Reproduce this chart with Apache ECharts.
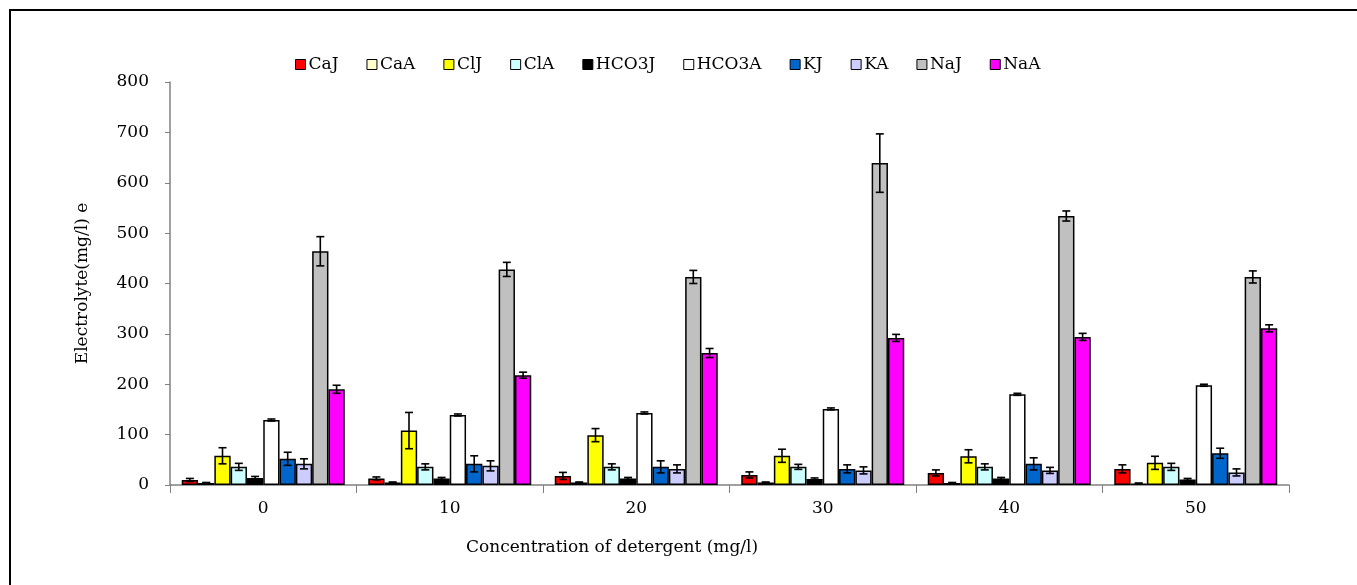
<!DOCTYPE html>
<html>
<head>
<meta charset="utf-8">
<script src="https://cdn.jsdelivr.net/npm/echarts@6/dist/echarts.min.js"></script>
<style>
html,body{margin:0;padding:0;background:#fff;}
#c{width:1357px;height:585px;}
</style>
</head>
<body>
<div id="c"></div>
<script>
// ---- data ----
var categories = ['0', '10', '20', '30', '40', '50'];
var seriesNames = ['CaJ', 'CaA', 'ClJ', 'ClA', 'HCO3J', 'HCO3A', 'KJ', 'KA', 'NaJ', 'NaA'];

var CaJ   = [10, 13, 18, 20, 24, 32];
var CaA   = [4, 5, 5, 5, 4, 3];
var ClJ   = [58, 108, 99, 58, 57, 44];
var ClA   = [36, 36, 36, 36, 36, 36];
var HCO3J = [14, 13, 13, 12, 13, 11];
var HCO3A = [129, 139, 143, 151, 180, 198];
var KJ    = [52, 42, 36, 32, 42, 63];
var KA    = [42, 38, 32, 29, 29, 25];
var NaJ   = [464, 428, 413, 639, 534, 413];
var NaA   = [190, 218, 262, 292, 294, 311];

var CaJ_err   = [3, 3, 7, 6, 6, 8];
var CaA_err   = [1, 1, 1, 1, 1, 1];
var ClJ_err   = [16, 36, 13, 13, 13, 13];
var ClA_err   = [7, 6, 6, 5, 6, 7];
var HCO3J_err = [3, 2, 2, 2, 2, 2];
var HCO3A_err = [2, 2, 2, 2, 2, 2];
var KJ_err    = [13, 16, 12, 8, 12, 10];
var KA_err    = [10, 10, 8, 7, 6, 7];
var NaJ_err   = [29, 14, 13, 58, 10, 12];
var NaA_err   = [8, 6, 9, 7, 7, 7];

var xTitle = 'Concentration of detergent (mg/l)';
var yTitle = 'Electrolyte(mg/l) e';

var seriesColors = ['#ff0000', '#ffffcc', '#ffff00', '#ccffff', '#000000', '#ffffff', '#0066cc', '#ccccff', '#c0c0c0', '#ff00ff'];

// ---- build ----
var values = [CaJ, CaA, ClJ, ClA, HCO3J, HCO3A, KJ, KA, NaJ, NaA];
var errors = [CaJ_err, CaA_err, ClJ_err, ClA_err, HCO3J_err, HCO3A_err, KJ_err, KA_err, NaJ_err, NaA_err];
var FONT = '"DejaVu Serif", "Liberation Serif", serif';
var FS = 17;
var GAP = 0.126;
var N = seriesNames.length;

var series = seriesNames.map(function (name, i) {
  return {
    name: name,
    type: 'bar',
    data: values[i],
    barGap: '0%',
    barCategoryGap: (GAP * 100) + '%',
    itemStyle: { color: seriesColors[i], borderColor: '#000', borderWidth: 1.5 },
    emphasis: { disabled: true },
    animation: false
  };
});

var errData = [];
for (var s = 0; s < N; s++) {
  for (var c = 0; c < categories.length; c++) {
    errData.push([c, s, values[s][c], errors[s][c]]);
  }
}

series.push({
  type: 'custom',
  name: 'err',
  z: 10,
  animation: false,
  data: errData,
  renderItem: function (params, api) {
    var ci = api.value(0), si = api.value(1), v = api.value(2), e = api.value(3);
    var center = api.coord([ci, v]);
    var band = api.size([1, 0])[0];
    var bw = band * (1 - GAP) / N;
    var x = center[0] + (si - (N - 1) / 2) * bw;
    var top = api.coord([ci, v + e])[1];
    var bot = api.coord([ci, Math.max(0, v - e)])[1];
    var hw = 4;
    var st = { stroke: '#000', lineWidth: 1.6 };
    return {
      type: 'group',
      children: [
        { type: 'line', shape: { x1: x, y1: top, x2: x, y2: bot }, style: st },
        { type: 'line', shape: { x1: x - hw, y1: top, x2: x + hw, y2: top }, style: st },
        { type: 'line', shape: { x1: x - hw, y1: bot, x2: x + hw, y2: bot }, style: st }
      ]
    };
  }
});

var chart = echarts.init(document.getElementById('c'), null, { renderer: 'canvas' });
chart.setOption({
  backgroundColor: '#fff',
  animation: false,
  textStyle: { fontFamily: FONT },
  graphic: [{
    type: 'rect',
    shape: { x: 10, y: 10, width: 1400, height: 650 },
    style: { fill: 'none', stroke: '#000', lineWidth: 2 },
    silent: true
  }, {
    type: 'text',
    x: 612,
    y: 548,
    style: {
      text: xTitle,
      fontFamily: FONT,
      fontSize: FS,
      fill: '#000',
      align: 'center',
      verticalAlign: 'middle'
    },
    silent: true
  }],
  legend: {
    data: seriesNames,
    top: 51,
    left: 290,
    itemWidth: 10,
    itemHeight: 10,
    itemGap: 28,
    icon: 'rect',
    textStyle: { fontFamily: FONT, fontSize: FS, color: '#000', padding: [0, 0, 0, -2] },
    itemStyle: { borderColor: '#000', borderWidth: 1 }
  },
  grid: { left: 170, right: 68, top: 82, bottom: 100, containLabel: false },
  xAxis: {
    type: 'category',
    data: categories,
    axisLine: { lineStyle: { color: '#808080', width: 1.5 } },
    axisTick: { show: true, length: 8, lineStyle: { color: '#808080' } },
    axisLabel: { fontFamily: FONT, fontSize: FS, color: '#000', margin: 15 },
    splitLine: { show: false }
  },
  yAxis: {
    type: 'value',
    min: 0, max: 800, interval: 100,
    name: yTitle,
    nameLocation: 'middle',
    nameGap: 79,
    nameTextStyle: { fontFamily: FONT, fontSize: FS, color: '#000' },
    axisLine: { show: true, lineStyle: { color: '#808080', width: 1.5 } },
    axisTick: { show: true, length: 5, lineStyle: { color: '#808080' } },
    axisLabel: { fontFamily: FONT, fontSize: FS, color: '#000', margin: 21 },
    splitLine: { show: false }
  },
  series: series
});
</script>
</body>
</html>
